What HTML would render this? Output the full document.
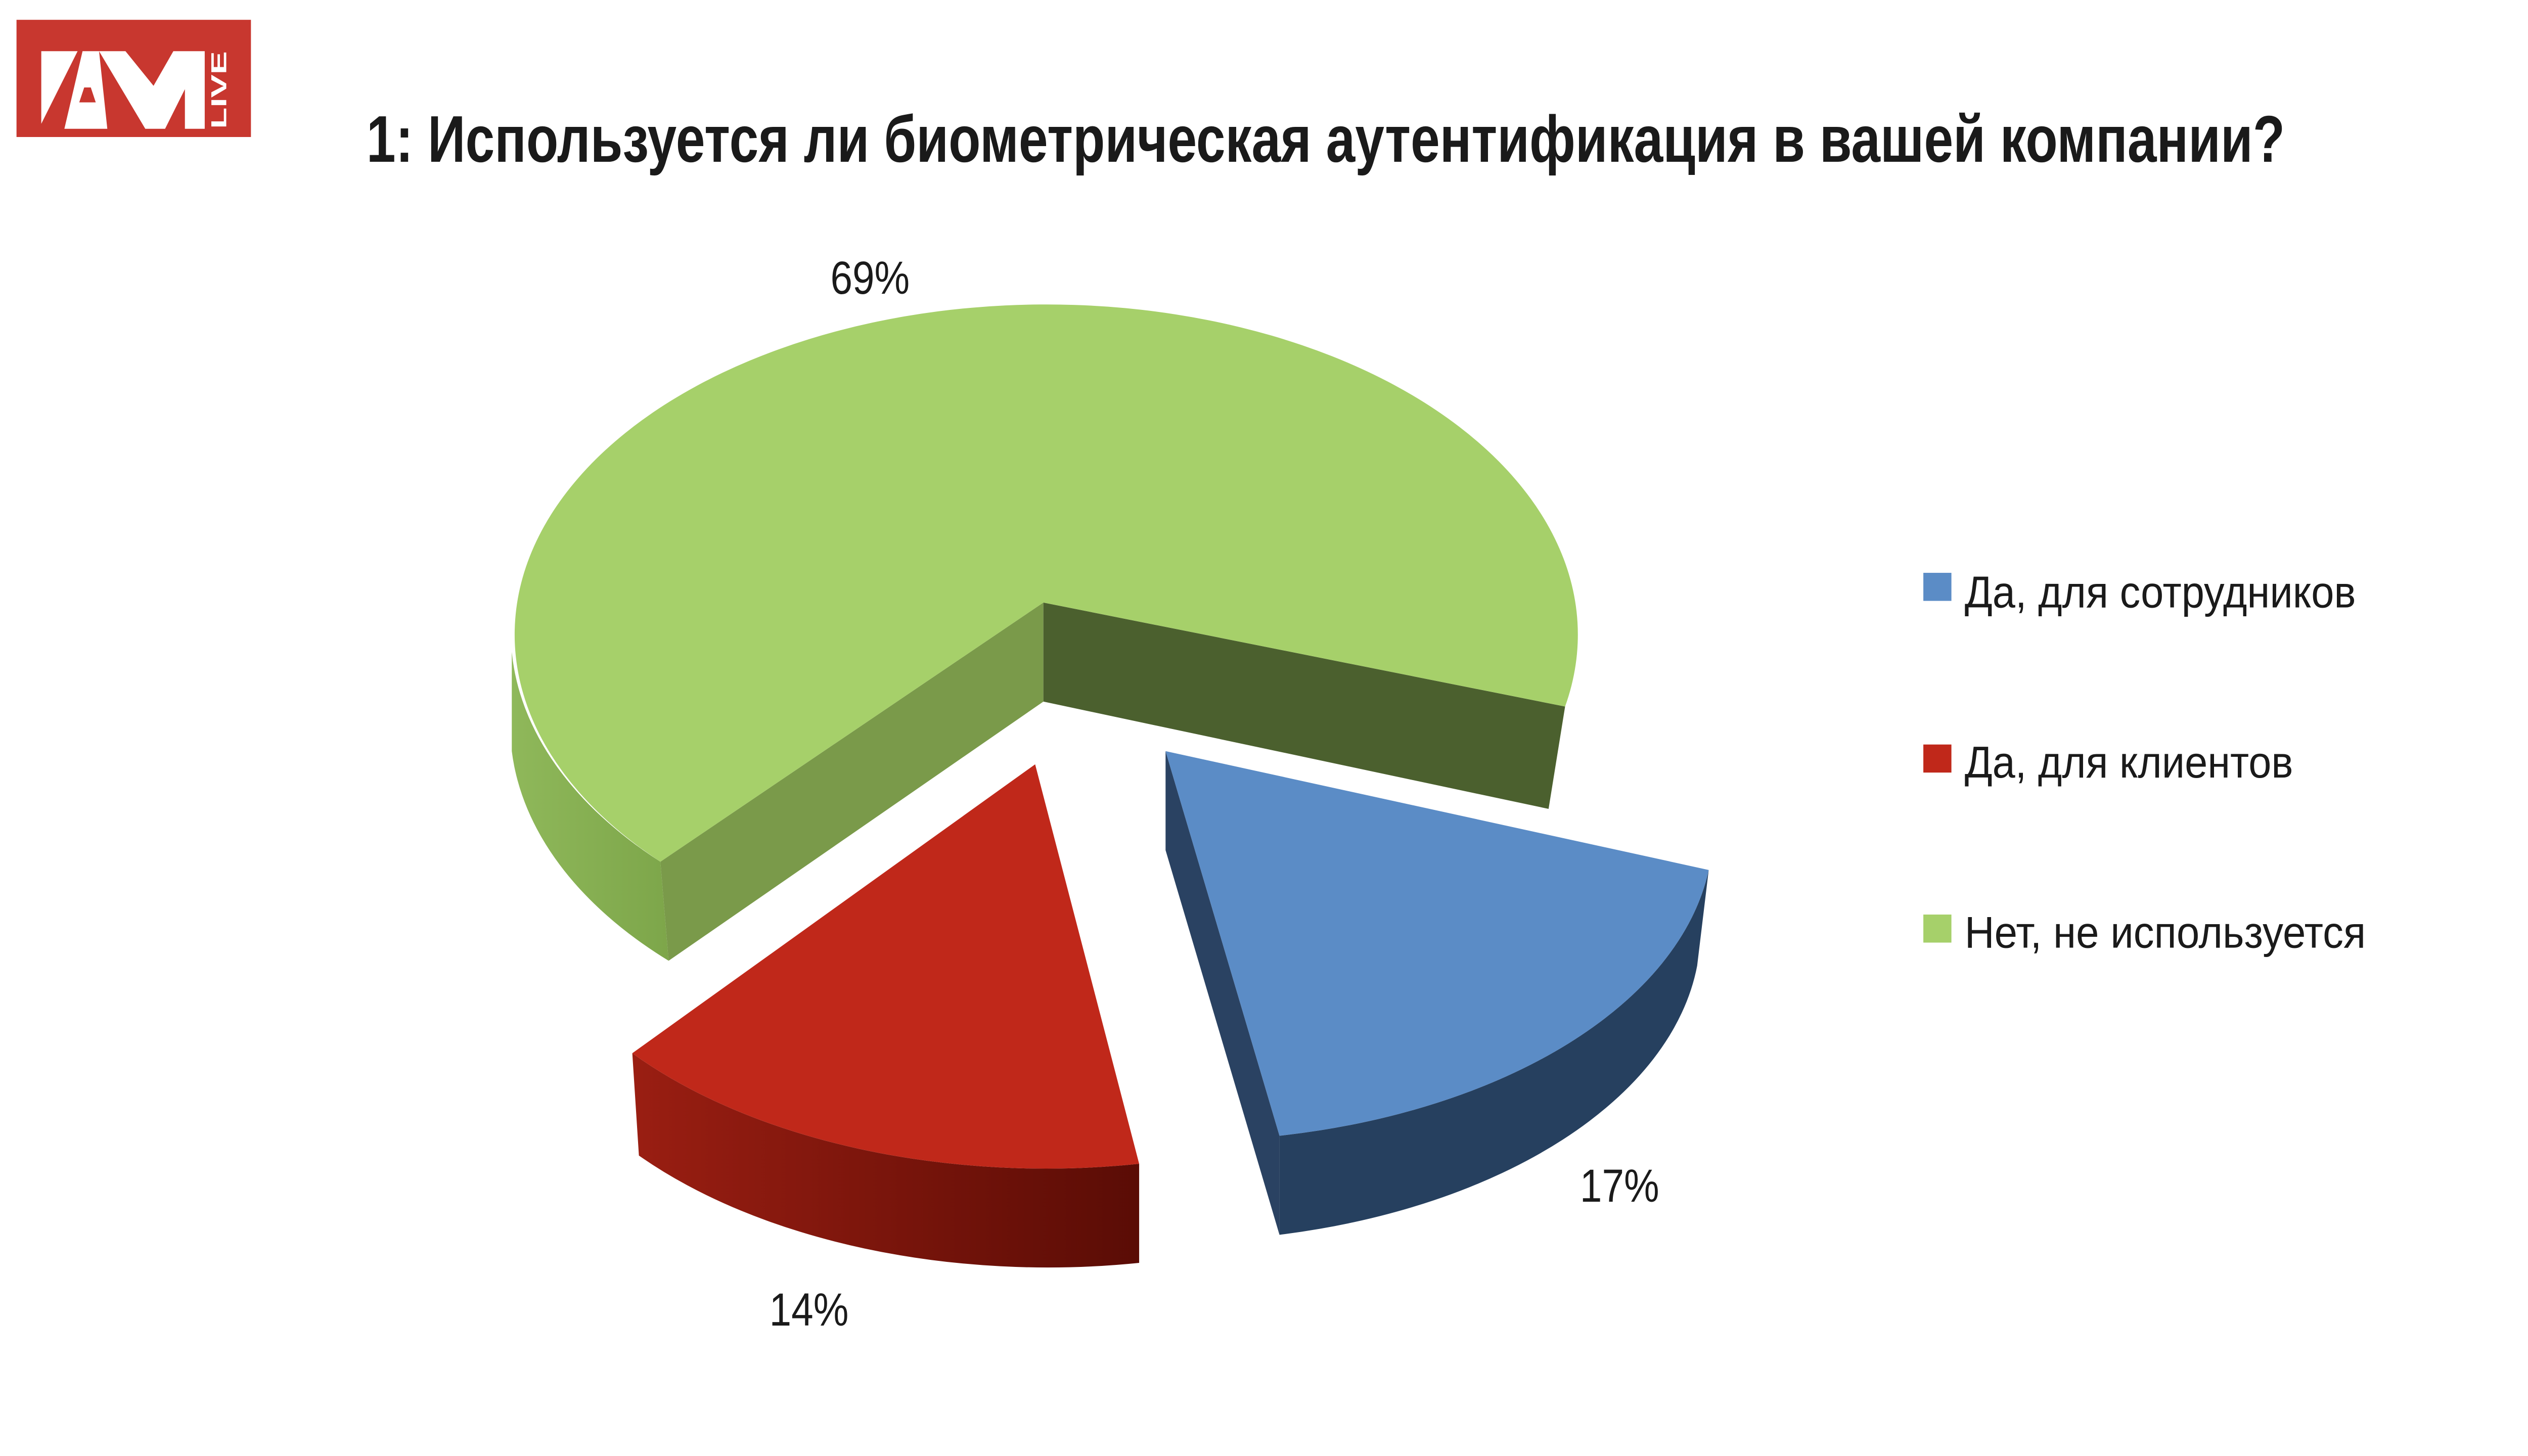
<!DOCTYPE html>
<html><head><meta charset="utf-8"><style>
html,body{margin:0;padding:0;background:#fff;}
svg{display:block;}
text{font-family:"Liberation Sans Narrow","Liberation Sans",sans-serif;fill:#1a1a1a;}
</style></head><body>
<svg width="5120" height="2880" viewBox="0 0 1568 882" preserveAspectRatio="none" xmlns="http://www.w3.org/2000/svg">
<defs>
<linearGradient id="rg" x1="0" x2="1" y1="0" y2="0"><stop offset="0" stop-color="#9a1e12"/><stop offset="1" stop-color="#5a0c05"/></linearGradient>
<linearGradient id="gg" x1="0" x2="1" y1="0" y2="0"><stop offset="0" stop-color="#8fb85a"/><stop offset="1" stop-color="#7da64a"/></linearGradient>
</defs>
<rect width="1568" height="882" fill="#fff"/>
<!-- logo -->
<rect x="10" y="12" width="142" height="71" fill="#c8372f"/>
<polygon points="25,31 47,31 25,75" fill="#fff"/>
<polygon points="50,31 60,31 65,78 39,78" fill="#fff"/>
<polygon points="48,62 58,62 55,53 51,53" fill="#c8372f"/>
<polygon points="60,31 76,31 93,52 105,31 124,31 124,78 112,78 112,54 100,78 88,78" fill="#fff"/>
<text x="0" y="0" transform="translate(137,78) rotate(-90)" font-size="13" font-weight="bold" textLength="47" lengthAdjust="spacingAndGlyphs" style="fill:#fff">LIVE</text>
<!-- title -->
<text x="222" y="98" font-size="40" font-weight="bold" textLength="1162" lengthAdjust="spacingAndGlyphs">1: Используется ли биометрическая аутентификация в вашей компании?</text>
<!-- green slice -->
<path d="M310,395 L310,455 A322,200 0 0 0 405,582 L400,522 A322,200 0 0 1 310,395 Z" fill="url(#gg)"/>
<path d="M632,365 L632,425 L405,582 L400,522 Z" fill="#7a9a4a"/>
<path d="M632,365 L948,428 L938,490 L632,425 Z" fill="#4b602e"/>
<path d="M632,365 L400,522 A322,200 0 1 1 948,428 Z" fill="#a6d06a"/>
<!-- blue slice -->
<path d="M706,455 L706,515 L775,748 L775,688 Z" fill="#2a4262"/>
<path d="M1035,527 L1028,585 A322,188 0 0 1 775,748 L775,688 A322,188 0 0 0 1035,527 Z" fill="#26405f"/>
<path d="M706,455 L1035,527 A322,188 0 0 1 775,688 Z" fill="#5b8cc6"/>
<!-- red slice -->
<path d="M383,638 L387,700 A322,188 0 0 0 690,765 L690,705 A322,188 0 0 1 383,638 Z" fill="url(#rg)"/>
<path d="M627,463 L690,705 A322,188 0 0 1 383,638 Z" fill="#c0281a"/>
<!-- labels -->
<text x="503" y="178" font-size="28" textLength="48" lengthAdjust="spacingAndGlyphs">69%</text>
<text x="957" y="728" font-size="28" textLength="48" lengthAdjust="spacingAndGlyphs">17%</text>
<text x="466" y="803" font-size="28" textLength="48" lengthAdjust="spacingAndGlyphs">14%</text>
<!-- legend -->
<rect x="1165" y="347" width="17" height="17" fill="#5b8cc6"/>
<text x="1190" y="368" font-size="27" textLength="237" lengthAdjust="spacingAndGlyphs">Да, для сотрудников</text>
<rect x="1165" y="451" width="17" height="17" fill="#c0281a"/>
<text x="1190" y="471" font-size="27" textLength="199" lengthAdjust="spacingAndGlyphs">Да, для клиентов</text>
<rect x="1165" y="554" width="17" height="17" fill="#a6d06a"/>
<text x="1190" y="574" font-size="27" textLength="243" lengthAdjust="spacingAndGlyphs">Нет, не используется</text>
</svg>
</body></html>
